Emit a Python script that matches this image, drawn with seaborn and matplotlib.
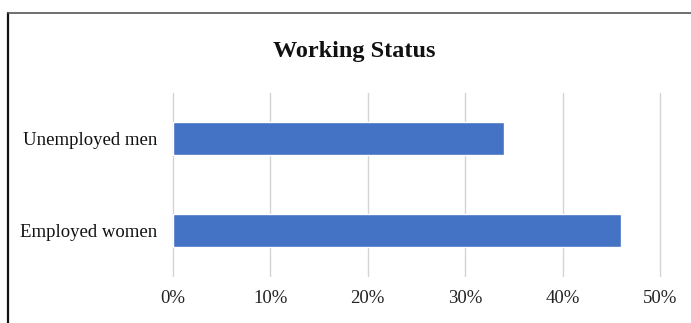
import matplotlib
matplotlib.use("Agg")
import matplotlib.pyplot as plt
import seaborn as sns
import pandas as pd
from matplotlib.lines import Line2D

categories = ["Unemployed men", "Employed women"]
values = [34, 46]
xticks = [0, 10, 20, 30, 40, 50]
xtick_labels = ["0%", "10%", "20%", "30%", "40%", "50%"]
title = "Working Status"

sns.set_theme(style="white")
plt.rcParams['font.family'] = ['Liberation Serif', 'DejaVu Serif']

df = pd.DataFrame({"category": categories, "value": values})

fig = plt.figure(figsize=(6.91, 3.23), dpi=100)
W, H = 691, 323
ax = fig.add_axes([173 / W, 1 - 276 / H, (660 - 173) / W, (276 - 93) / H])

sns.barplot(data=df, x="value", y="category", orient="h", color="#4472C4",
            width=0.36, saturation=1, ax=ax, zorder=3)

ax.set_xlim(0, 50)
ax.set_ylim(1.5, -0.5)
ax.set_xticks(xticks)
ax.set_xticklabels(xtick_labels)
ax.xaxis.grid(True, color="#d4d4d4", linewidth=1.0)
ax.yaxis.grid(False)
ax.set_axisbelow(True)
for s in ax.spines.values():
    s.set_visible(False)
ax.set_xlabel("")
ax.set_ylabel("")
ax.tick_params(axis="x", length=0, pad=10, labelsize=13.5, labelcolor="#222222")
ax.tick_params(axis="y", length=0, pad=11.5, labelsize=13.5, labelcolor="#111111")
for gl in ax.get_xgridlines():
    gl.set_clip_on(False)

fig.text(354 / W, 1 - 56.7 / H, title, ha="center", va="baseline",
         fontsize=17.5, fontweight="bold", color="#111111")

# outer chart frame (left and top edges visible)
fig.add_artist(Line2D([8.3 / W, 8.3 / W], [0, 1 - 13 / H], transform=fig.transFigure,
                      color="#111111", linewidth=1.6))
fig.add_artist(Line2D([8.3 / W, 1], [1 - 13.3 / H, 1 - 13.3 / H], transform=fig.transFigure,
                      color="#555555", linewidth=1.2))

fig.savefig("out.png", dpi=100)
